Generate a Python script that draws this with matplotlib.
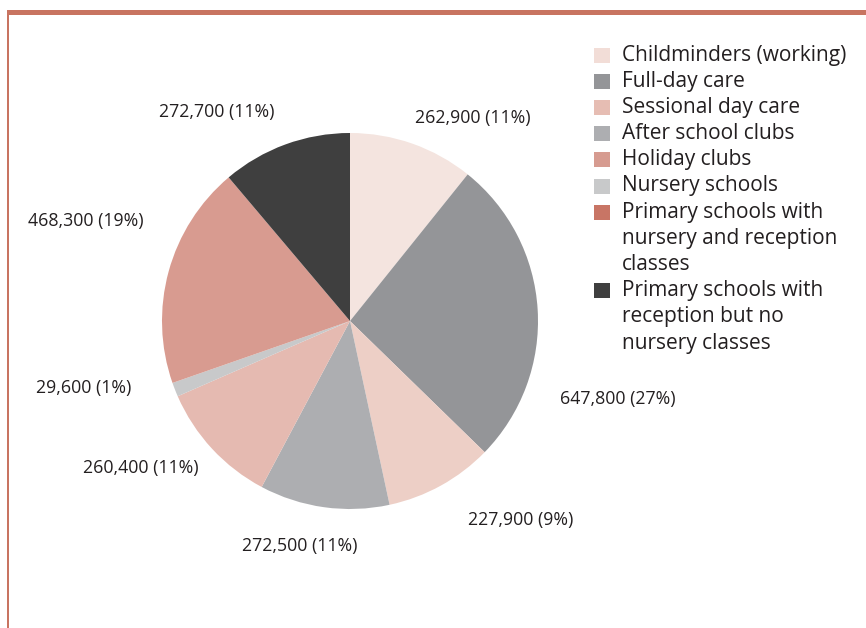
import matplotlib
matplotlib.use("Agg")
import matplotlib.pyplot as plt
from matplotlib.patches import Rectangle

plt.rcParams['font.family'] = ['Open Sans', 'DejaVu Sans']

# data
categories = [
    "Childminders (working)",
    "Full-day care",
    "Sessional day care",
    "After school clubs",
    "Holiday clubs",
    "Nursery schools",
    "Primary schools with\nnursery and reception\nclasses",
    "Primary schools with\nreception but no\nnursery classes",
]
values = [262900, 647800, 227900, 272500, 260400, 29600, 468300, 272700]
percents = [11, 27, 9, 11, 11, 1, 19, 11]

slice_colors = ["#f4e4df", "#949598", "#edcfc6", "#adaeb1",
                "#e5bab1", "#c8c9ca", "#d89b90", "#3f3f3f"]
legend_colors = ["#f2ddd7", "#949598", "#e6bdb3", "#adaeb1",
                 "#d69b90", "#c8c9ca", "#c87565", "#3f3f3f"]

# label centres in pixels (layout)
label_pos = [(473, 118), (618, 399), (521, 520), (300, 546),
             (141, 468), (84, 388), (86, 221), (217, 112)]

BORDER = "#c87461"

fig = plt.figure(figsize=(8.66, 6.28), dpi=100)
bg = fig.add_axes([0, 0, 1, 1])
bg.set_xlim(0, 866)
bg.set_ylim(628, 0)
bg.axis("off")

# frame lines
bg.add_patch(Rectangle((7, 10), 859, 5, color=BORDER, lw=0))
bg.add_patch(Rectangle((7, 10), 1.6, 618, color=BORDER, lw=0))

# pie
cx, cy, r = 350, 321, 188
pax = fig.add_axes([(cx - r) / 866, (628 - cy - r) / 628, 2 * r / 866, 2 * r / 628])
pax.pie(values, colors=slice_colors, startangle=90, counterclock=False,
        wedgeprops=dict(linewidth=0))
pax.set_xlim(-1, 1)
pax.set_ylim(-1, 1)
pax.set_aspect("equal")
pax.axis("off")

for v, p, (x, y) in zip(values, percents, label_pos):
    bg.text(x, y, f"{v:,} ({p}%)", ha="center", va="center",
            fontsize=12.8, color="#231f20")

# legend
line = 0
for name, col in zip(categories, legend_colors):
    y = 55 + 26.2 * line
    bg.add_patch(Rectangle((594, y - 7.5), 16, 15, color=col, lw=0))
    for k, part in enumerate(name.split("\n")):
        bg.text(622, y + 26.2 * k, part, ha="left", va="center",
                fontsize=15, color="#231f20")
    line += name.count("\n") + 1

fig.savefig("out.png", dpi=100)
